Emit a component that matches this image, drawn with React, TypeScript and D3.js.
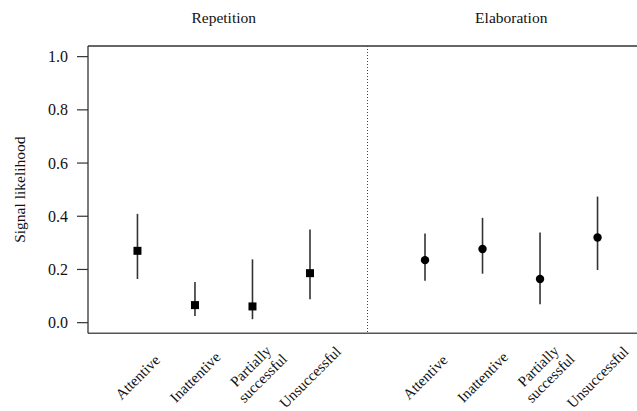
import React from "react";
import * as d3 from "d3";

const groups = ["Repetition", "Elaboration"];
const categories = ["Attentive", "Inattentive", "Partially\nsuccessful", "Unsuccessful"];
const repetitionEst = [0.27, 0.066, 0.061, 0.186];
const repetitionLow = [0.164, 0.025, 0.013, 0.088];
const repetitionHigh = [0.409, 0.153, 0.238, 0.35];
const elaborationEst = [0.235, 0.277, 0.164, 0.32];
const elaborationLow = [0.158, 0.184, 0.069, 0.198];
const elaborationHigh = [0.335, 0.394, 0.339, 0.474];
const yTicks = [0, 0.2, 0.4, 0.6, 0.8, 1.0];
const yLabel = "Signal likelihood";

const W = 637;
const H = 411;
const FONT = '"Liberation Serif", "DejaVu Serif", "Times New Roman", serif';

export default function App() {
  const plotLeft = 88;
  const plotTop = 46;
  const plotBottom = 333.3;
  const y = d3.scaleLinear().domain([-0.04, 1.04]).range([plotBottom, plotTop]);
  const x = d3.scaleLinear().domain([0.14, 9.86]).range([plotLeft, 647]);

  const series = [
    { name: groups[0], est: repetitionEst, low: repetitionLow, high: repetitionHigh, offset: 1, shape: "square" },
    { name: groups[1], est: elaborationEst, low: elaborationLow, high: elaborationHigh, offset: 6, shape: "circle" },
  ];

  const ts = { fontFamily: FONT };

  return (
    <svg
      width={W}
      height={H}
      style={{ position: "absolute", left: 0, top: 0, background: "#fff", fontFamily: FONT }}
    >
      <rect x={0} y={0} width={W} height={H} fill="#fff" />
      {/* frame */}
      <line x1={plotLeft} x2={W} y1={plotTop} y2={plotTop} stroke="#333" strokeWidth={1.3} />
      <line x1={plotLeft} x2={W} y1={plotBottom} y2={plotBottom} stroke="#555" strokeWidth={1.6} />
      <line x1={plotLeft} x2={plotLeft} y1={plotTop} y2={plotBottom} stroke="#333" strokeWidth={1.3} />
      {/* divider */}
      <line
        x1={x(5)}
        x2={x(5)}
        y1={plotTop}
        y2={plotBottom}
        stroke="#444"
        strokeWidth={1}
        strokeDasharray="1,2"
      />
      {/* y axis ticks */}
      {yTicks.map((t) => (
        <g key={t}>
          <line x1={plotLeft - 11} x2={plotLeft} y1={y(t)} y2={y(t)} stroke="#333" strokeWidth={1.2} />
          <text x={68} y={y(t)} dy="0.35em" textAnchor="end" fontSize={16} fill="#111" style={ts}>
            {t.toFixed(1)}
          </text>
        </g>
      ))}
      <text
        transform={`translate(20, ${(plotTop + plotBottom) / 2}) rotate(-90)`}
        textAnchor="middle"
        dy="0.35em"
        fontSize={15.5}
        fill="#111"
        style={ts}
      >
        {yLabel}
      </text>
      {series.map((s) => {
        const xs = categories.map((_, i) => x(s.offset + i));
        const cx = (xs[0] + xs[xs.length - 1]) / 2;
        return (
          <g key={s.name}>
            <text x={cx} y={23} textAnchor="middle" fontSize={15.5} fill="#111" style={ts}>
              {s.name}
            </text>
            {s.est.map((v, i) => (
              <g key={i}>
                <line
                  x1={xs[i]}
                  x2={xs[i]}
                  y1={y(s.low[i])}
                  y2={y(s.high[i])}
                  stroke="#333"
                  strokeWidth={1.6}
                />
                {s.shape === "square" ? (
                  <rect x={xs[i] - 4} y={y(v) - 4} width={8} height={8} fill="#000" />
                ) : (
                  <circle cx={xs[i]} cy={y(v)} r={4.2} fill="#000" />
                )}
              </g>
            ))}
            {categories.map((c, i) => {
              const lines = c.split("\n");
              const two = lines.length > 1;
              const ax = xs[i] + (two ? 4 : 0);
              const ay = 377 - (two ? 5 : 0);
              return (
                <text
                  key={c}
                  transform={`translate(${ax}, ${ay}) rotate(-45)`}
                  textAnchor="middle"
                  fontSize={15}
                  fill="#111"
                  style={ts}
                >
                  {lines.map((l, j) => (
                    <tspan key={j} x={0} y={(j - (lines.length - 1) / 2) * 17} dy="0.35em">
                      {l}
                    </tspan>
                  ))}
                </text>
              );
            })}
          </g>
        );
      })}
    </svg>
  );
}
